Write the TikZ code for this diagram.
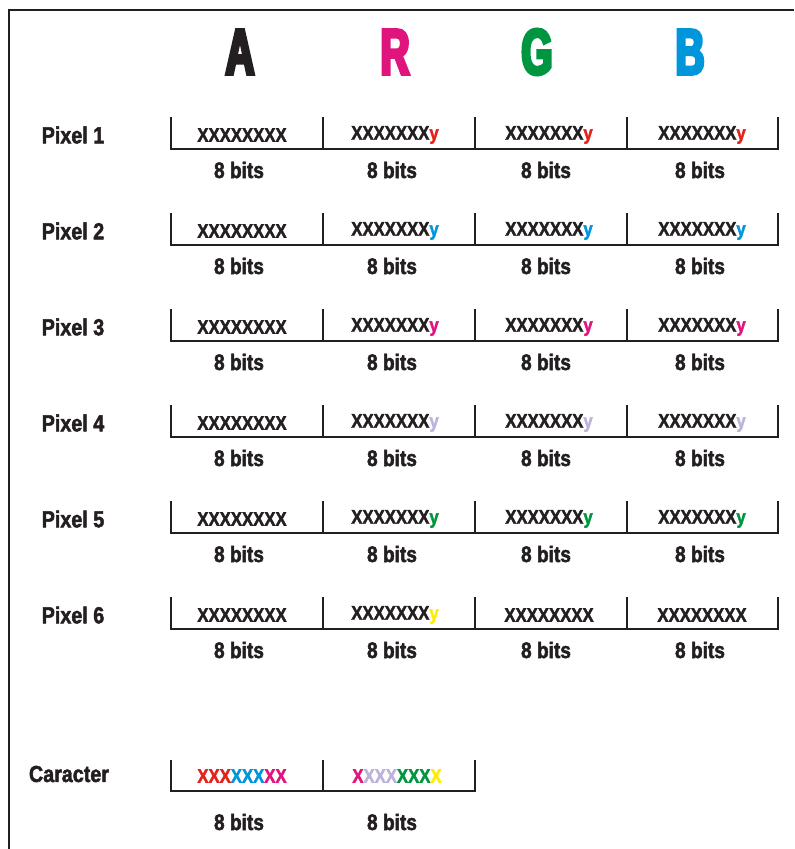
\documentclass[tikz,border=0pt]{standalone}
\usepackage{fontspec}
\setmainfont{Liberation Sans}[FakeStretch=0.85, BoldFeatures={FakeBold=2}]
\newfontfamily\headfont{Liberation Sans Bold}[FakeStretch=0.62, FakeBold=5]
\usepackage{xcolor}
\usepackage{tikz}

\definecolor{bitred}{HTML}{E3231B}
\definecolor{bitblue}{HTML}{0096DC}
\definecolor{bitmagenta}{HTML}{E0147D}
\definecolor{bitlilac}{HTML}{BDB3DA}
\definecolor{bitgreen}{HTML}{009640}
\definecolor{bityellow}{HTML}{FFED00}
\definecolor{ink}{HTML}{231F20}

\tikzset{
  frame/.style={line width=2pt, draw=ink},
  byteline/.style={line width=1.6pt, draw=ink},
  bits/.style={font=\fontsize{14}{16}\selectfont\bfseries, text=ink, inner sep=0pt},
  size/.style={font=\fontsize{16}{18}\selectfont\bfseries, text=ink, inner sep=0pt},
  rowlabel/.style={font=\fontsize{16.5}{18}\selectfont\bfseries, text=ink, inner sep=0pt},
  heading/.style={font=\fontsize{46}{50}\selectfont\headfont, inner sep=0pt}
}
\newcommand{\lowbit}[1]{XXXXXXX\textcolor{#1}{y}}

\begin{document}
\begin{tikzpicture}[x=0.25mm, y=-0.25mm]
\useasboundingbox (0,0) rectangle (794,849);
% Frame
\draw[frame] (9,849) -- (9,10) -- (794,10);

% Channels
\node[heading, text=ink] (ha) at (240,52) {A};
\node[heading, text=bitmagenta] (hr) at (395,52) {R};
\node[heading, text=bitgreen] (hg) at (537,52) {G};
\node[heading, text=bitblue] (hb) at (690,52) {B};

% Pixels
\foreach \n/\yc/\c in {1/135/bitred, 2/231/bitblue, 3/327/bitmagenta,
                       4/423/bitlilac, 5/519/bitgreen}{
  \node[rowlabel] (p\n) at (73,\yc) {Pixel \n};
  \draw[byteline] (171,\yc-18) -- (171,\yc+14) -- (778,\yc+14) -- (778,\yc-18);
  \foreach \x in {323,475,627}
    \draw[byteline] (\x,\yc-18) -- (\x,\yc+14);
  \node[bits] (p\n-a) at (242,\yc) {XXXXXXXX};
  \node[bits] (p\n-r) at (395,\yc) {\lowbit{\c}};
  \node[bits] (p\n-g) at (549,\yc) {\lowbit{\c}};
  \node[bits] (p\n-b) at (702,\yc) {\lowbit{\c}};
  \foreach \x/\k in {239/a,392/r,546/g,700/b}
    \node[size] (s\n-\k) at (\x,\yc+35) {8 bits};
}

% Pixel 6
\node[rowlabel] (p6) at (73,615) {Pixel 6};
\draw[byteline] (171,597) -- (171,629) -- (778,629) -- (778,597);
\foreach \x in {323,475,627}
  \draw[byteline] (\x,597) -- (\x,629);
\node[bits] (p6-a) at (242,615) {XXXXXXXX};
\node[bits] (p6-r) at (395,615) {\lowbit{bityellow}};
\node[bits] (p6-g) at (549,615) {XXXXXXXX};
\node[bits] (p6-b) at (702,615) {XXXXXXXX};
\foreach \x/\k in {239/a,392/r,546/g,700/b}
  \node[size] (s6-\k) at (\x,650) {8 bits};

% Caracter
\node[rowlabel] (car) at (69,774) {Caracter};
\draw[byteline] (171,760) -- (171,791) -- (475,791) -- (475,760);
\draw[byteline] (323,760) -- (323,791);
\node[bits] (c1) at (242,776) {\textcolor{bitred}{XXX}\textcolor{bitblue}{XXX}\textcolor{bitmagenta}{XX}};
\node[bits] (c2) at (397,776) {\textcolor{bitmagenta}{X}\textcolor{bitlilac}{XXX}\textcolor{bitgreen}{XXX}\textcolor{bityellow}{X}};
\node[size] (sc1) at (239,822) {8 bits};
\node[size] (sc2) at (392,822) {8 bits};
\end{tikzpicture}
\end{document}
